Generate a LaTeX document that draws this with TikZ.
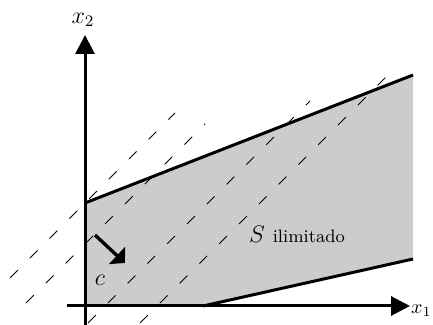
\documentclass[tikz,border=0pt]{standalone}
\usepackage{amsmath,amssymb}
\usetikzlibrary{arrows.meta}
\begin{document}
\begin{tikzpicture}[
    x=0.5pt,y=-0.5pt,
    axis/.style={-{Triangle[length=9.5pt,width=9.5pt]},draw=black,line width=1.5pt},
    bound/.style={draw=black,line width=1.5pt},
    level/.style={draw=black,line width=0.4pt,dash pattern=on 5.5pt off 8.5pt},
    dir/.style={-{Triangle[length=5.5pt,width=11.5pt]},draw=black,line width=1.7pt},
    lbl/.style={inner sep=0pt,font=\large}
  ]
    \useasboundingbox (0,0) rectangle (433,325);
    % corners of the region
    \coordinate (top) at (85,203);
    \coordinate (topr) at (413,75);
    \coordinate (botr) at (413,259);
    \coordinate (bot) at (203,306);
    \coordinate (orig) at (85,306);
    \fill[gray!40] (top) -- (topr) -- (botr) -- (bot) -- (orig) -- cycle;
    % level lines
    \foreach \xa/\ya/\xb/\yb in {10/278/175/113,26/303/205/124,88/323/310/101,140/323/392/71}
      \draw[level] (\xa,\ya) -- (\xb,\yb);
    \draw[bound] (top) -- (topr);
    \draw[bound] (bot) -- (botr);
    % axes
    \coordinate (yfoot) at (85,325);
    \coordinate (ytip) at (85,35);
    \coordinate (xfoot) at (67,306);
    \coordinate (xtip) at (410,306);
    \draw[axis] (yfoot) -- (ytip);
    \draw[axis] (xfoot) -- (xtip);
    \node[lbl] (xtwo) at (83,20) {$x_2$};
    \node[lbl,font=\normalsize,anchor=east] (xone) at (432,311) {$x_1$};
    % direction of c
    \coordinate (cfrom) at (95,235);
    \coordinate (cto) at (125,263);
    \draw[dir] (cfrom) -- (cto);
    \node[lbl] (clab) at (100,280) {$c$};
    \node[lbl,anchor=base] (slab) at (297,243) {$S$ {\small ilimitado}};
  \end{tikzpicture}
\end{document}
